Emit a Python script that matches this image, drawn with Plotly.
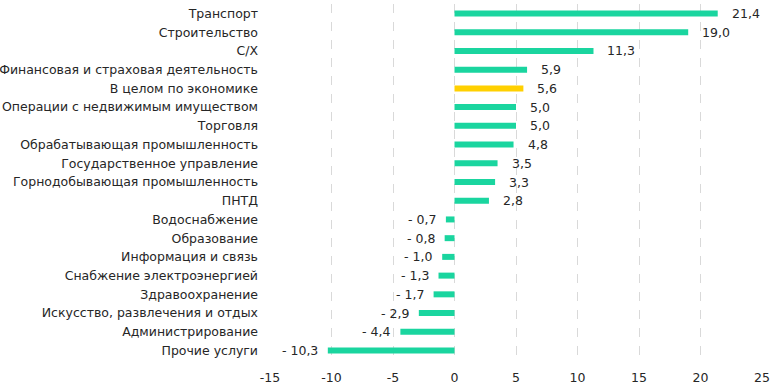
import plotly.graph_objects as go

categories = ["Транспорт", "Строительство", "С/Х", "Финансовая и страховая деятельность",
              "В целом по экономике", "Операции с недвижимым имуществом", "Торговля",
              "Обрабатывающая промышленность", "Государственное управление",
              "Горнодобывающая промышленность", "ПНТД", "Водоснабжение", "Образование",
              "Информация и связь", "Снабжение электроэнергией", "Здравоохранение",
              "Искусство, развлечения и отдых", "Администрирование", "Прочие услуги"]
values = [21.4, 19.0, 11.3, 5.9, 5.6, 5.0, 5.0, 4.8, 3.5, 3.3, 2.8,
          -0.7, -0.8, -1.0, -1.3, -1.7, -2.9, -4.4, -10.3]
highlight = "В целом по экономике"
x_ticks = [-15, -10, -5, 0, 5, 10, 15, 20, 25]

GREEN = "#1ad59f"
YELLOW = "#ffd000"
FONT = "DejaVu Sans"
FS = 12.5
TXT = "#262626"

colors = [YELLOW if c == highlight else GREEN for c in categories]

def fmt(v):
    s = f"{abs(v):.1f}".replace(".", ",")
    return s if v >= 0 else "- " + s

fig = go.Figure(go.Bar(
    x=values, y=categories, orientation="h",
    marker=dict(color=colors, line=dict(width=0)),
    hoverinfo="skip",
))

annotations = []
for c, v in zip(categories, values):
    annotations.append(dict(
        x=v, y=c, xref="x", yref="y", text=fmt(v), showarrow=False,
        xanchor="left" if v >= 0 else "right",
        xshift=12 if v >= 0 else -8,
        font=dict(family=FONT, size=FS, color=TXT),
    ))

fig.update_layout(
    width=770, height=384,
    margin=dict(l=270, r=8, t=4, b=24, autoexpand=False),
    paper_bgcolor="white", plot_bgcolor="white",
    bargap=0.68,
    showlegend=False,
    annotations=annotations,
    font=dict(family=FONT, size=FS, color=TXT),
    xaxis=dict(
        range=[-15, 25], tickvals=x_ticks, ticktext=[str(t) for t in x_ticks],
        showgrid=True, gridcolor="#d9d9d9", griddash="dash", gridwidth=1,
        zeroline=False, showline=False, ticks="", automargin=False,
        ticklabelstandoff=8,
        tickfont=dict(family=FONT, size=FS, color=TXT),
        fixedrange=True,
    ),
    yaxis=dict(
        autorange="reversed", showgrid=False, zeroline=False, showline=False,
        ticks="", ticklabelstandoff=11, automargin=False,
        tickfont=dict(family=FONT, size=FS, color=TXT),
        fixedrange=True,
    ),
)

fig.write_html("out.html", config={"displayModeBar": False},
               post_script="document.body.style.margin='0';document.body.style.overflow='hidden';")
